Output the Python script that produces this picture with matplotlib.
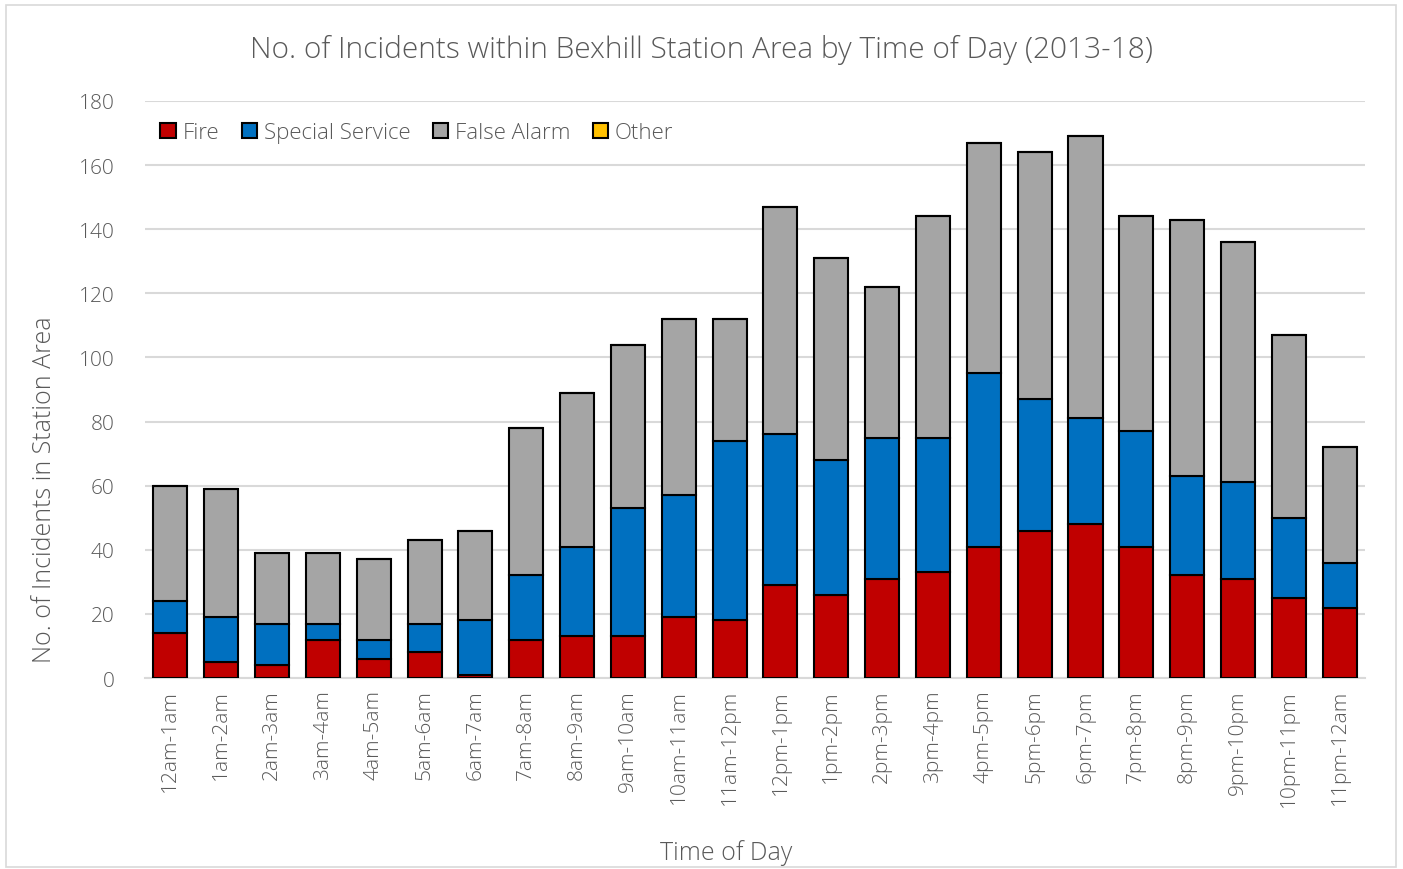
import matplotlib
matplotlib.use("Agg")
import matplotlib.pyplot as plt
import numpy as np
from matplotlib.patches import Rectangle

plt.rcParams['font.family'] = ['Open Sans', 'DejaVu Sans']

hours = ["12am-1am", "1am-2am", "2am-3am", "3am-4am", "4am-5am", "5am-6am",
         "6am-7am", "7am-8am", "8am-9am", "9am-10am", "10am-11am", "11am-12pm",
         "12pm-1pm", "1pm-2pm", "2pm-3pm", "3pm-4pm", "4pm-5pm", "5pm-6pm",
         "6pm-7pm", "7pm-8pm", "8pm-9pm", "9pm-10pm", "10pm-11pm", "11pm-12am"]
fire = [14, 5, 4, 12, 6, 8, 1, 12, 13, 13, 19, 18,
        29, 26, 31, 33, 41, 46, 48, 41, 32, 31, 25, 22]
special_service = [10, 14, 13, 5, 6, 9, 17, 20, 28, 40, 38, 56,
                   47, 42, 44, 42, 54, 41, 33, 36, 31, 30, 25, 14]
false_alarm = [36, 40, 22, 22, 25, 26, 28, 46, 48, 51, 55, 38,
               71, 63, 47, 69, 72, 77, 88, 67, 80, 75, 57, 36]
other = [0] * 24

series = [("Fire", fire, "#C00000"),
          ("Special Service", special_service, "#0070C0"),
          ("False Alarm", false_alarm, "#A5A5A5"),
          ("Other", other, "#FFC000")]

text_color = "#595959"

fig = plt.figure(figsize=(14.03, 8.7), dpi=100)
ax = fig.add_axes([0.1033, 0.2195, 0.8697, 0.6633])

x = np.arange(len(hours))
bottom = np.zeros(len(hours))
for name, vals, color in series:
    vals = np.array(vals, dtype=float)
    ax.bar(x, vals, width=0.67, bottom=bottom, color=color, edgecolor="black",
           linewidth=1.5, label=name, zorder=3)
    bottom += vals

ax.set_xlim(-0.5, len(hours) - 0.5)
ax.set_ylim(0, 180)
ax.set_yticks(np.arange(0, 181, 20))
ax.yaxis.grid(True, color="#D9D9D9", linewidth=1.5, zorder=0)
ax.set_axisbelow(True)
for s in ["top", "right", "left"]:
    ax.spines[s].set_visible(False)
ax.spines["bottom"].set_color("#D9D9D9")
ax.spines["bottom"].set_linewidth(1.5)
ax.tick_params(axis="both", length=0, colors=text_color, labelsize=15)
ax.tick_params(axis="y", pad=22)
ax.tick_params(axis="x", pad=8)
ax.set_xticks(x)
ax.set_xticklabels(hours, rotation=90, fontweight="light")
for lab in ax.get_yticklabels():
    lab.set_fontweight("light")

fig.text(0.032, 0.437, "No. of Incidents in Station Area", rotation=90, ha="center",
         va="center", fontsize=18, color=text_color, fontweight="light")
fig.text(0.5175, 0.0195, "Time of Day", ha="center", va="center", fontsize=18,
         color=text_color, fontweight="light")
fig.text(0.5, 0.942, "No. of Incidents within Bexhill Station Area by Time of Day (2013-18)",
         ha="center", va="center", fontsize=21.5, color=text_color, fontweight="light")

leg = ax.legend(loc="upper left", bbox_to_anchor=(0.0, 0.99), ncol=4, frameon=False,
                fontsize=16, handlelength=0.7, handleheight=0.7, handletextpad=0.3,
                columnspacing=1.0, borderaxespad=0.3)
for t in leg.get_texts():
    t.set_color(text_color)
    t.set_fontweight("light")

fig.patches.append(Rectangle((0.004, 0.002), 0.991, 0.991, transform=fig.transFigure,
                             fill=False, edgecolor="#D9D9D9", linewidth=1.2))

fig.savefig("out.png", dpi=100)
